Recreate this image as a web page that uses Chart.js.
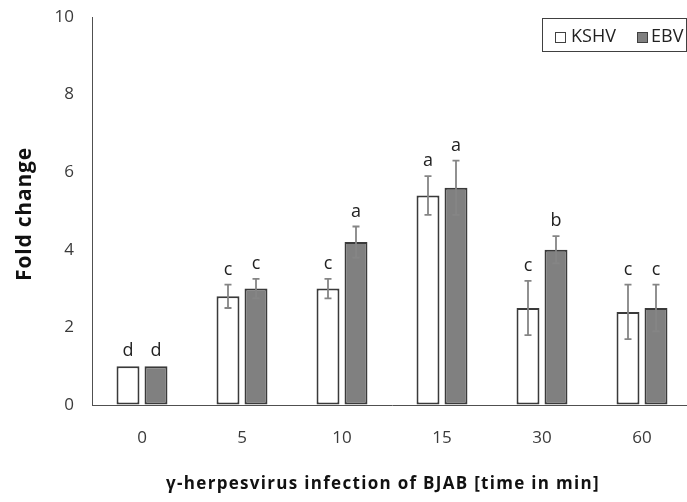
<!DOCTYPE html>
<html>
<head>
<meta charset="utf-8">
<script src="https://cdn.jsdelivr.net/npm/chart.js@4.4.1/dist/chart.umd.min.js"></script>
<style>
  html, body { margin: 0; padding: 0; background: #fff; overflow: hidden; }
  #wrap { width: 700px; height: 502px; position: relative; }
</style>
</head>
<body>
<div id="wrap"><canvas id="c" width="700" height="502"></canvas></div>
<script>
// Time points after infection (min)
const categories = ['0', '5', '10', '15', '30', '60'];

// Mean fold change and error (± SD) per virus
const kshvValues = [1.0, 2.8, 3.0, 5.4, 2.5, 2.4];
const kshvErrors = [0, 0.3, 0.25, 0.5, 0.7, 0.7];
const ebvValues  = [1.0, 3.0, 4.2, 5.6, 4.0, 2.5];
const ebvErrors  = [0, 0.25, 0.4, 0.7, 0.35, 0.6];

// Significance group letters
const kshvLetters = ['d', 'c', 'c', 'a', 'c', 'c'];
const ebvLetters  = ['d', 'c', 'a', 'a', 'b', 'c'];

// Y axis ticks
const yTicks = [0, 2, 4, 6, 8, 10];

const FONT = '"Open Sans", "DejaVu Sans", sans-serif';
const AXIS_COLOR = '#505050';
const TEXT_COLOR = '#3a3a3a';

const errorBars = {
  id: 'errorBars',
  afterDatasetsDraw(chart) {
    const ctx = chart.ctx;
    const y = chart.scales.y;
    ctx.save();
    chart.data.datasets.forEach((ds, di) => {
      const meta = chart.getDatasetMeta(di);
      meta.data.forEach((bar, i) => {
        const v = ds.data[i];
        const e = ds.errors[i];
        const x = bar.x;
        const top = y.getPixelForValue(v + e);
        if (e > 0) {
          const bot = y.getPixelForValue(v - e);
          ctx.strokeStyle = '#858585';
          ctx.lineWidth = 1.8;
          ctx.beginPath();
          ctx.moveTo(x, top); ctx.lineTo(x, bot);
          ctx.moveTo(x - 3.5, top); ctx.lineTo(x + 3.5, top);
          ctx.moveTo(x - 3.5, bot); ctx.lineTo(x + 3.5, bot);
          ctx.stroke();
        }
        ctx.fillStyle = '#222';
        ctx.font = '18px ' + FONT;
        ctx.textAlign = 'center';
        ctx.textBaseline = 'alphabetic';
        ctx.fillText(ds.letters[i], x, top - 10);
      });
    });
    ctx.restore();
  }
};

const decorations = {
  id: 'decorations',
  afterDraw(chart) {
    const ctx = chart.ctx;
    ctx.save();
    // Axis titles
    ctx.fillStyle = '#111';
    ctx.textAlign = 'center';
    ctx.textBaseline = 'middle';
    ctx.font = 'bold 17px ' + FONT;
    ctx.letterSpacing = '1.3px';
    ctx.fillText('\u03B3-herpesvirus infection of BJAB [time in min]', 383, 484);
    ctx.translate(25, 214);
    ctx.rotate(-Math.PI / 2);
    ctx.font = 'bold 21px ' + FONT;
    ctx.letterSpacing = '0.8px';
    ctx.fillText('Fold change', 0, 0);
    ctx.restore();

    // Legend box
    ctx.save();
    ctx.strokeStyle = '#404040';
    ctx.lineWidth = 1;
    ctx.fillStyle = '#fff';
    ctx.fillRect(542, 18.5, 145, 33);
    ctx.strokeRect(542.5, 18.5, 144, 33);
    const items = [
      { ds: chart.data.datasets[0], bx: 555.5, tx: 571 },
      { ds: chart.data.datasets[1], bx: 637.5, tx: 651 }
    ];
    ctx.font = '18px ' + FONT;
    ctx.textAlign = 'left';
    ctx.textBaseline = 'middle';
    items.forEach(it => {
      ctx.fillStyle = it.ds.backgroundColor;
      ctx.fillRect(it.bx, 32.5, 10, 10);
      ctx.strokeStyle = '#404040';
      ctx.strokeRect(it.bx, 32.5, 10, 10);
      ctx.fillStyle = '#222';
      ctx.fillText(it.ds.label, it.tx, 37);
    });
    ctx.restore();
  }
};

new Chart(document.getElementById('c'), {
  type: 'bar',
  data: {
    labels: categories,
    datasets: [
      {
        label: 'KSHV',
        data: kshvValues,
        errors: kshvErrors,
        letters: kshvLetters,
        backgroundColor: '#ffffff',
        borderColor: '#3a3a3a',
        borderWidth: 2,
        borderSkipped: false
      },
      {
        label: 'EBV',
        data: ebvValues,
        errors: ebvErrors,
        letters: ebvLetters,
        backgroundColor: '#808080',
        borderColor: '#3a3a3a',
        borderWidth: 2,
        borderSkipped: false
      }
    ]
  },
  options: {
    responsive: false,
    animation: false,
    events: [],
    categoryPercentage: 0.56,
    barPercentage: 0.82,
    layout: { padding: { top: 17, right: 8, left: 0, bottom: 0 } },
    plugins: {
      legend: { display: false },
      tooltip: { enabled: false }
    },
    scales: {
      x: {
        offset: true,
        grid: { display: true, color: 'rgba(0,0,0,0)', drawTicks: false },
        border: { display: true, color: AXIS_COLOR, width: 1 },
        ticks: { color: TEXT_COLOR, font: { size: 17, family: FONT }, padding: 23 },
        afterFit(scale) { scale.height = 97; scale.paddingLeft = 0; scale.paddingRight = 0; }
      },
      y: {
        min: 0,
        max: 10,
        afterBuildTicks(scale) { scale.ticks = yTicks.map(v => ({ value: v })); },
        grid: { display: true, color: 'rgba(0,0,0,0)', drawTicks: false },
        border: { display: true, color: AXIS_COLOR, width: 1 },
        ticks: { color: TEXT_COLOR, font: { size: 17, family: FONT }, padding: 18 },
        afterFit(scale) { scale.width = 92; scale.paddingTop = 0; scale.paddingBottom = 0; }
      }
    }
  },
  plugins: [errorBars, decorations]
});
</script>
</body>
</html>
